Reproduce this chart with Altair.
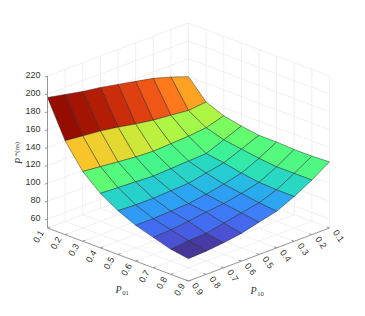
import altair as alt
import pandas as pd

ticks = [0.1, 0.2, 0.3, 0.4, 0.5, 0.6, 0.7, 0.8, 0.9]
z_ticks = [60, 80, 100, 120, 140, 160, 180, 200, 220]
# rows: P01 = 0.1..0.9 ; columns: P10 = 0.9..0.1
z_00 = [196, 192, 188, 185, 181, 177, 173, 167, 160]
z_01 = [155, 153, 151, 148, 144, 141, 139, 137, 139]
z_02 = [128, 126, 124, 122, 121, 122, 123, 125, 131]
z_03 = [111, 110, 109, 108, 109, 110, 111, 119, 127]
z_04 = [99, 98, 98, 99, 100, 104, 108, 116, 124]
z_05 = [90, 90, 91, 92, 95, 99, 104, 113, 124]
z_06 = [84, 85, 87, 90, 92, 96, 101, 111, 123]
z_07 = [78, 80, 81, 85, 89, 93, 100, 111, 123]
z_08 = [75, 76, 78, 81, 86, 91, 100, 111, 124]
surface = [z_00, z_01, z_02, z_03, z_04, z_05, z_06, z_07, z_08]
p10_desc = ticks[::-1]


def sx(p01, p10):
    return 188.5 + 141 * ((p01 - 0.1) - (p10 - 0.1)) / 0.8


def sy(p01, p10, z):
    return 175 + 53 * ((p01 - 0.1) + (p10 - 0.1)) / 0.8 - 0.894 * (z - 50)


def seg(a, b, c=None):
    """a and b are (p01, p10, z) triples."""
    return dict(x=sx(a[0], a[1]), y=sy(*a), x2=sx(b[0], b[1]), y2=sy(*b))


X = alt.X("x:Q", axis=None, scale=alt.Scale(domain=[8, 357], nice=False, zero=False))
Y = alt.Y("y:Q", axis=None, scale=alt.Scale(domain=[308, 8], nice=False, zero=False))

# walls and floor grid
grid = []
for t in ticks:
    grid.append(seg((t, 0.1, 50), (t, 0.1, 220)))
    grid.append(seg((0.1, t, 50), (0.1, t, 220)))
    grid.append(seg((t, 0.1, 50), (t, 0.9, 50)))
    grid.append(seg((0.1, t, 50), (0.9, t, 50)))
for z in z_ticks:
    grid.append(seg((0.1, 0.9, z), (0.1, 0.1, z)))
    grid.append(seg((0.1, 0.1, z), (0.9, 0.1, z)))

# axis lines and ticks
axes = [
    seg((0.1, 0.9, 50), (0.1, 0.9, 220)),
    seg((0.1, 0.9, 50), (0.9, 0.9, 50)),
    seg((0.9, 0.9, 50), (0.9, 0.1, 50)),
]
for z in z_ticks:
    axes.append(seg((0.1, 0.9, z), (0.1, 0.915, z)))
for t in ticks:
    axes.append(seg((t, 0.9, 50), (t, 0.885, 50)))
    axes.append(seg((0.9, t, 50), (0.885, t, 50)))

# surface facets, back to front
rows = []
order = sorted(
    ((i, j) for i in range(8) for j in range(8)),
    key=lambda q: q[0] + (7 - q[1]),
)
for q, (i, j) in enumerate(order):
    corners = [(i, j), (i, j + 1), (i + 1, j + 1), (i + 1, j), (i, j)]
    for k, (a, b) in enumerate(corners):
        p01, p10, z = ticks[a], p10_desc[b], surface[a][b]
        rows.append(dict(x=sx(p01, p10), y=sy(p01, p10, z), q=f"q{q:02d}", k=k, c=surface[i][j + 1]))

gray = "#808080"
ink = "#333333"
grid_layer = alt.Chart(pd.DataFrame(grid)).mark_rule(color="#eeeeee", strokeWidth=0.9).encode(
    x=X, y=Y, x2="x2:Q", y2="y2:Q"
)
axes_layer = alt.Chart(pd.DataFrame(axes)).mark_rule(color=gray, strokeWidth=0.8).encode(
    x=X, y=Y, x2="x2:Q", y2="y2:Q"
)
surf_layer = alt.Chart(pd.DataFrame(rows)).mark_line(
    stroke="#1c1c1c", strokeWidth=0.5, strokeOpacity=0.85, interpolate="linear", clip=False
).encode(
    x=X,
    y=Y,
    detail="q:N",
    order="k:Q",
    fill=alt.Fill("c:Q", scale=alt.Scale(scheme="turbo", domain=[74, 194], nice=False, zero=False), legend=None),
)


def text(df, **kw):
    base = dict(font="Liberation Sans", fontSize=9, color=ink, baseline="middle", align="center")
    base.update(kw)
    return alt.Chart(pd.DataFrame(df)).mark_text(**base).encode(x=X, y=Y, text="t:N")


z_lab = text(
    [dict(x=sx(0.1, 0.9) - 7, y=sy(0.1, 0.9, z) - 1, t=str(z)) for z in z_ticks], align="right"
)
p01_lab = text(
    [dict(x=sx(t, 0.9) - 9, y=sy(t, 0.9, 50) + 8.5, t=f"{t:.1f}") for t in ticks], angle=300
)
p10_lab = text(
    [dict(x=sx(0.9, t) + 9, y=sy(0.9, t, 50) + 8, t=f"{t:.1f}") for t in ticks], angle=55
)

serif = dict(font="Liberation Serif", color=ink)
title_main = text(
    [dict(x=118.5, y=290, t="P"), dict(x=253.5, y=291, t="P")], fontSize=10, fontStyle="italic", **serif
)
title_sub = text(
    [dict(x=125.5, y=292.5, t="01"), dict(x=260.5, y=293.5, t="10")], fontSize=6.5, **serif
)
z_main = text([dict(x=18.5, y=161, t="P")], fontSize=10, fontStyle="italic", angle=270, **serif)
z_sub = text([dict(x=16.5, y=149, t="*(ns)")], fontSize=7, angle=270, **serif)

chart = (
    alt.layer(grid_layer, surf_layer, axes_layer, z_lab, p01_lab, p10_lab, title_main, title_sub, z_main, z_sub)
    .properties(width=349, height=300, padding=0, background="white")
    .configure_view(stroke=None)
)
chart.save("out.html", embed_options={"renderer": "svg", "actions": False})
